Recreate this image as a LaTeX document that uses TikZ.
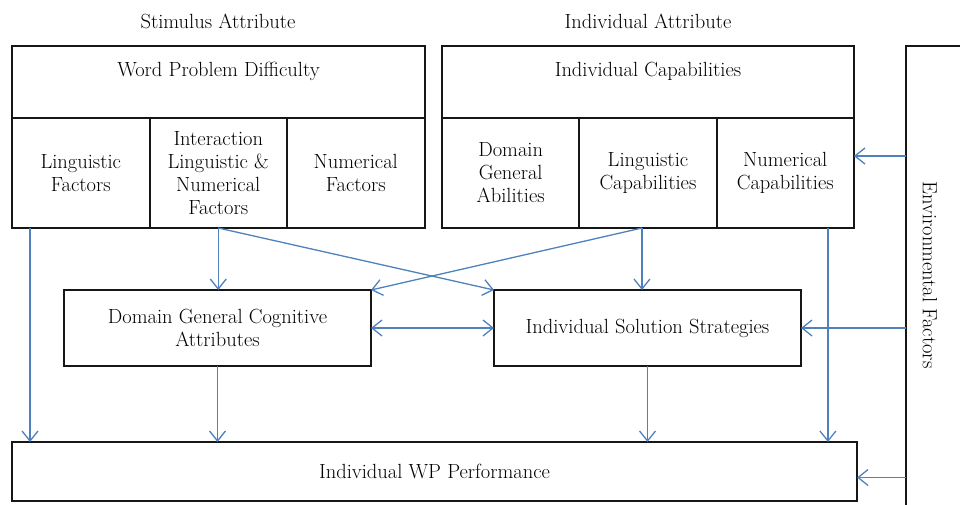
\documentclass[tikz,border=0pt]{standalone}
\usepackage{fontspec}
\usetikzlibrary{positioning,arrows.meta}
\definecolor{linkblue}{HTML}{4F81BD}
\definecolor{frame}{HTML}{161616}

\begin{document}
\begin{tikzpicture}[x=1pt,y=-1pt,font=\fontsize{20.5}{23}\selectfont,
  >={Straight Barb[length=10pt,width=16pt]},
  box/.style={draw=frame,line width=2pt,outer sep=0pt,inner sep=3pt,align=center,anchor=north west},
  headbox/.style={box,minimum height=72pt,text height=30pt,text depth=42pt,inner ysep=0pt},
  cellbox/.style={box,minimum width=137.5pt,minimum height=110pt},
  link/.style={->,draw=linkblue,line width=1.3pt}]
  \useasboundingbox (0,0) rectangle (960,504);
  \clip (0,0) rectangle (960,504);

  % stimulus side
  \node (stimtitle) at (218,21) {Stimulus Attribute};
  \node[headbox,minimum width=413pt] (stimhead) at (12,46) {Word Problem Difficulty};
  \node[cellbox,below right=0pt and 0pt of stimhead.south west] (lingfac) {Linguistic\\Factors};
  \node[cellbox,right=0pt of lingfac] (interfac) {Interaction\\Linguistic \&\\Numerical\\Factors};
  \node[cellbox,right=0pt of interfac] (numfac) {Numerical\\Factors};

  % individual side
  \node (indtitle) at (648,21) {Individual Attribute};
  \node[headbox,minimum width=412pt] (indhead) at (442,46) {Individual Capabilities};
  \node[cellbox,minimum width=137.3pt,below right=0pt and 0pt of indhead.south west] (domabil) {Domain\\General\\Abilities};
  \node[cellbox,minimum width=137.3pt,right=0pt of domabil] (lingcap) {Linguistic\\Capabilities};
  \node[cellbox,minimum width=137.3pt,right=0pt of lingcap] (numcap) {Numerical\\Capabilities};

  % middle and bottom
  \node[box,minimum width=307pt,minimum height=76pt] (dgca) at (64,290) {Domain General Cognitive\\Attributes};
  \node[box,minimum width=307pt,minimum height=76pt] (iss) at (494,290) {Individual Solution Strategies};
  \node[box,minimum width=845pt,minimum height=59pt] (wpperf) at (12,442) {Individual WP Performance};

  % environment, runs off the page
  \node[box,minimum width=90pt,minimum height=480pt] (env) at (906,46) {};
  \node[rotate=-90] (envtext) at (930,275) {Environmental Factors};

  \coordinate (lfout) at ([xshift=18pt]lingfac.south west);
  \coordinate (lcout) at ([xshift=-6pt]lingcap.south);
  \coordinate (ncout) at ([xshift=-26pt]numcap.south east);
  \coordinate (ncin) at ([yshift=17pt]numcap.east);
  \coordinate (wpin) at ([yshift=-6pt]wpperf.east);

  \draw[link] (lfout) -- (lfout |- wpperf.north);
  \draw[link] (interfac.south) -- (interfac.south |- dgca.north);
  \draw[link] (interfac.south) -- (iss.north west);
  \draw[link] (lcout) -- (dgca.north east);
  \draw[link] (lcout) -- (lcout |- iss.north);
  \draw[link] (ncout) -- (ncout |- wpperf.north);
  \draw[link,<->] (dgca) -- (iss);
  \draw[link] (dgca.south) -- (dgca.south |- wpperf.north);
  \draw[link] (iss.south) -- (iss.south |- wpperf.north);
  \draw[link] (env.west |- ncin) -- (ncin);
  \draw[link] (env.west |- iss.east) -- (iss.east);
  \draw[link] (env.west |- wpin) -- (wpin);
\end{tikzpicture}
\end{document}
